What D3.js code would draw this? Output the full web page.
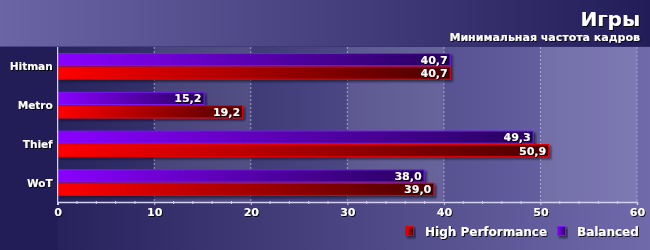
<!DOCTYPE html>
<html><head><meta charset="utf-8">
<script src="https://cdn.jsdelivr.net/npm/d3@7"></script>
<style>html,body{margin:0;padding:0;background:#221d56;}svg{display:block;}</style>
</head><body>
<svg id="chart" width="650" height="250"></svg>
<script>
const categories = ["Hitman", "Metro", "Thief", "WoT"];
const seriesNames = ["Balanced", "High Performance"];
const balanced = [40.7, 15.2, 49.3, 38.0];
const highPerformance = [40.7, 19.2, 50.9, 39.0];
const tickValues = [0, 10, 20, 30, 40, 50, 60];
const title = "Игры";
const subtitle = "Минимальная частота кадров";
const legendNames = ["High Performance", "Balanced"];

const W = 650, H = 250;
const plot = {left: 57.7, right: 637, top: 47, bottom: 202};
const FONT = "'DejaVu Sans', Verdana, sans-serif";

const svg = d3.select("#chart");
const defs = svg.append("defs");

function lg(id, stops) {
  const g = defs.append("linearGradient").attr("id", id)
    .attr("x1", "0%").attr("y1", "0%").attr("x2", "100%").attr("y2", "0%");
  stops.forEach(([o, c]) => g.append("stop").attr("offset", o).attr("stop-color", c));
  return g;
}
lg("bgGrad", [["0%", "#201b54"], ["100%", "#706aab"]]);
lg("headGrad", [["0%", "#6b65a6"], ["100%", "#221c58"]]);
lg("plotGrad", [["0%", "#27245d"], ["100%", "#6f6aab"]]);
lg("gradBal", [["0%", "#8a00ff"], ["100%", "#26005e"]]);
lg("gradHP", [["0%", "#ff0000"], ["100%", "#4a0000"]]);

const sh = defs.append("filter").attr("id", "shadow").attr("x", "-10%").attr("y", "-30%").attr("width", "130%").attr("height", "180%");
sh.append("feDropShadow").attr("dx", 2).attr("dy", 2).attr("stdDeviation", 0.8)
  .attr("flood-color", "#0a0828").attr("flood-opacity", 0.7);
const tsh = defs.append("filter").attr("id", "tshadow").attr("x", "-20%").attr("y", "-30%").attr("width", "150%").attr("height", "170%");
tsh.append("feDropShadow").attr("dx", 1).attr("dy", 1).attr("stdDeviation", 0.4)
  .attr("flood-color", "#000000").attr("flood-opacity", 0.85);

// background
svg.append("rect").attr("width", W).attr("height", H).attr("fill", "url(#bgGrad)");
svg.append("rect").attr("width", W).attr("height", plot.top).attr("fill", "url(#headGrad)");
svg.append("rect").attr("y", plot.top - 1).attr("width", W).attr("height", 1).attr("fill", "#332e6c").attr("opacity", 0.6);
svg.append("rect").attr("x", 0).attr("y", plot.top).attr("width", plot.left).attr("height", H - plot.top).attr("fill", "#221d56");

const x = d3.scaleLinear().domain([0, 60]).range([plot.left, plot.right]);
const y = d3.scaleBand().domain(categories).range([plot.top, plot.bottom]).paddingInner(0.3).paddingOuter(0.15);
const ySub = d3.scaleBand().domain(seriesNames).range([0, y.bandwidth()]).padding(0.02);

// plot background
svg.append("rect").attr("x", plot.left).attr("y", plot.top)
  .attr("width", plot.right - plot.left).attr("height", plot.bottom - plot.top).attr("fill", "url(#plotGrad)");
// alternating column bands
const cols = d3.range(tickValues.length - 1);
svg.append("g").selectAll("rect").data(cols.filter(i => i % 2 === 1)).join("rect")
  .attr("x", i => x(tickValues[i])).attr("y", plot.top)
  .attr("width", i => x(tickValues[i + 1]) - x(tickValues[i]))
  .attr("height", plot.bottom - plot.top)
  .attr("fill", "#ffffff").attr("opacity", 0.1);

// grid lines
svg.append("g").selectAll("line").data(tickValues.slice(1)).join("line")
  .attr("x1", d => x(d)).attr("x2", d => x(d))
  .attr("y1", plot.top).attr("y2", plot.bottom)
  .attr("stroke", "#c9c5ea").attr("stroke-opacity", 0.7)
  .attr("stroke-width", 1).attr("stroke-dasharray", "2,2");

// bars
const rows = categories.map((c, i) => ({cat: c, vals: [
  {name: "Balanced", v: balanced[i]},
  {name: "High Performance", v: highPerformance[i]}
]}));
const styleOf = {
  "Balanced": {fill: "url(#gradBal)", stroke: "#7a1cf0"},
  "High Performance": {fill: "url(#gradHP)", stroke: "#e80000"}
};
const gRows = svg.append("g").selectAll("g").data(rows).join("g")
  .attr("transform", d => `translate(0,${y(d.cat)})`);
const bars = gRows.selectAll("g").data(d => d.vals).join("g");
bars.append("rect")
  .attr("x", x(0) + 0.5).attr("y", d => ySub(d.name) + 0.5)
  .attr("width", d => x(d.v) - x(0) - 1).attr("height", ySub.bandwidth() - 1)
  .attr("fill", d => styleOf[d.name].fill)
  .attr("stroke", d => styleOf[d.name].stroke).attr("stroke-width", 1)
  .attr("filter", "url(#shadow)");
bars.append("text")
  .attr("x", d => x(d.v) - 3).attr("y", d => ySub(d.name) + ySub.bandwidth() / 2 + 4)
  .attr("text-anchor", "end").attr("fill", "#ffffff")
  .attr("font-family", FONT).attr("font-weight", "bold").attr("font-size", "11px")
  .attr("filter", "url(#tshadow)")
  .text(d => d3.format(".1f")(d.v).replace(".", ","));

// category labels
svg.append("g").selectAll("text").data(categories).join("text")
  .attr("x", plot.left - 5).attr("y", d => y(d) + y.bandwidth() / 2 + 4)
  .attr("text-anchor", "end").attr("fill", "#ffffff")
  .attr("font-family", FONT).attr("font-weight", "bold").attr("font-size", "10.5px")
  .attr("filter", "url(#tshadow)")
  .text(d => d);

// axes
const axisColor = "#d4d0ee";
svg.append("line").attr("x1", plot.left).attr("x2", plot.left).attr("y1", plot.top).attr("y2", plot.bottom + 3)
  .attr("stroke", "#ffffff").attr("stroke-width", 1);
const xAxis = d3.axisBottom(x).tickValues(tickValues).tickSize(3).tickPadding(3).tickFormat(d3.format("d"));
const gx = svg.append("g").attr("transform", `translate(0,${plot.bottom})`).call(xAxis);
gx.select(".domain").attr("stroke", axisColor).attr("stroke-width", 1.5);
gx.selectAll(".tick line").attr("stroke", axisColor);
gx.selectAll(".tick text").attr("fill", "#ffffff").attr("font-family", FONT)
  .attr("font-weight", "bold").attr("font-size", "11px").attr("filter", "url(#tshadow)");
const minorTicks = d3.range(0, 61, 2).filter(v => v % 10 !== 0);
svg.append("g").selectAll("line").data(minorTicks).join("line")
  .attr("x1", d => x(d)).attr("x2", d => x(d))
  .attr("y1", plot.bottom - 1).attr("y2", plot.bottom + 2)
  .attr("stroke", axisColor).attr("stroke-width", 1);

// title
svg.append("text").attr("x", 640).attr("y", 26).attr("text-anchor", "end")
  .attr("fill", "#ffffff").attr("font-family", FONT).attr("font-weight", "bold").attr("font-size", "20px")
  .attr("filter", "url(#tshadow)").text(title);
svg.append("text").attr("x", 640).attr("y", 41).attr("text-anchor", "end")
  .attr("fill", "#ffffff").attr("font-family", FONT).attr("font-weight", "bold").attr("font-size", "11px")
  .attr("filter", "url(#tshadow)").text(subtitle);

// legend
const legendFill = {"High Performance": "url(#gradHP)", "Balanced": "url(#gradBal)"};
const legendStroke = {"High Performance": "#e80000", "Balanced": "#7a1cf0"};
const legendX = [405, 557];
const lgG = svg.append("g").selectAll("g").data(legendNames).join("g")
  .attr("transform", (d, i) => `translate(${legendX[i]},226)`);
lgG.append("rect").attr("x", 0.5).attr("y", 0.5).attr("width", 8).attr("height", 9)
  .attr("fill", d => legendFill[d]).attr("stroke", d => legendStroke[d]).attr("filter", "url(#shadow)");
lgG.append("text").attr("x", 20).attr("y", 9.5).attr("fill", "#ffffff")
  .attr("font-family", FONT).attr("font-weight", "bold").attr("font-size", "12px")
  .attr("filter", "url(#tshadow)").text(d => d);
</script>
</body></html>
